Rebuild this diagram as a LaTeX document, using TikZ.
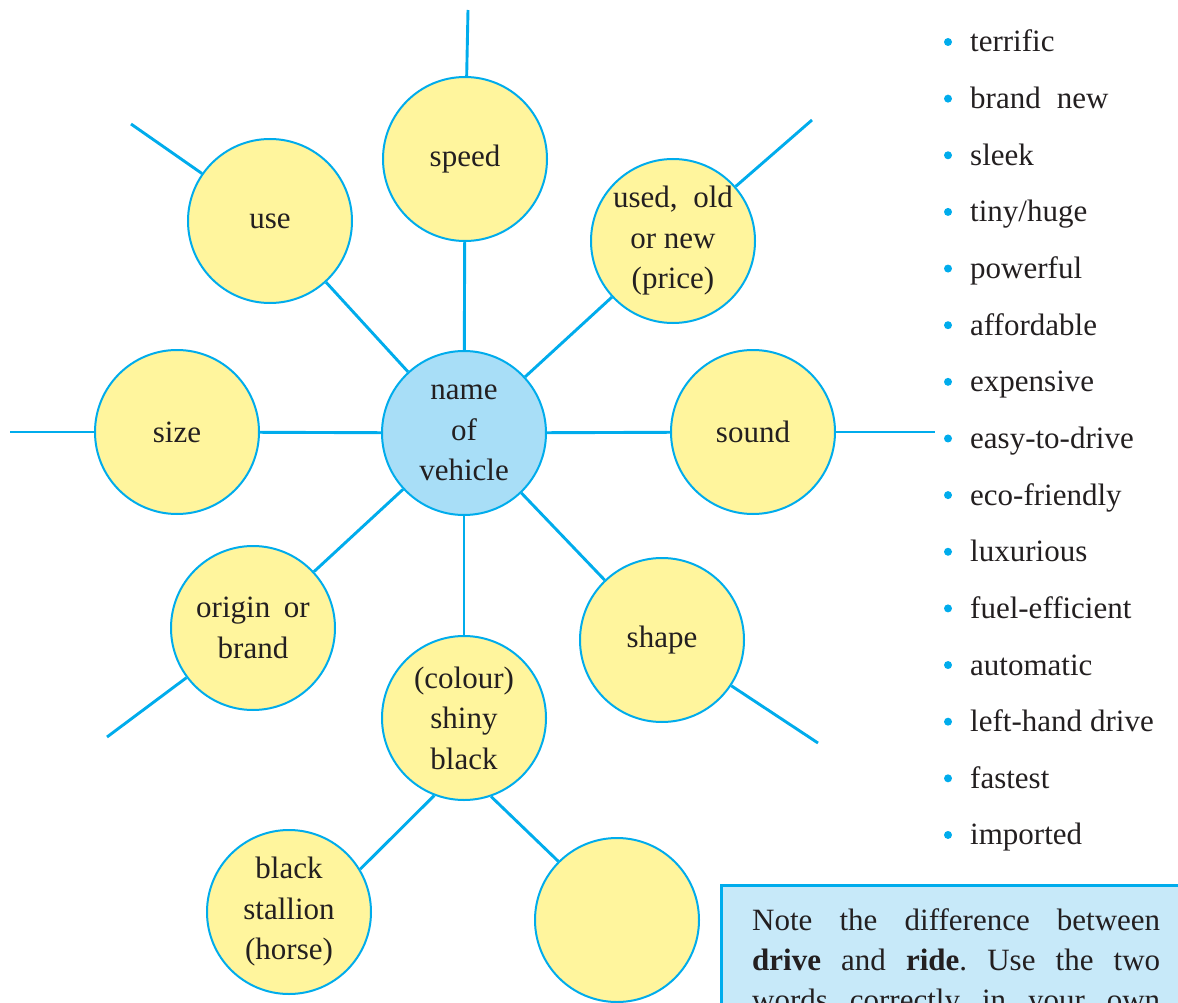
\documentclass[tikz,border=0pt]{standalone}
\usepackage{fontspec}
\setmainfont{Liberation Serif}
\definecolor{lineblue}{RGB}{0,172,236}
\definecolor{bubyellow}{RGB}{255,245,157}
\definecolor{hubblue}{RGB}{168,222,247}
\definecolor{notefill}{RGB}{199,233,249}
\definecolor{txt}{RGB}{35,31,32}
\begin{document}
\frenchspacing
\begin{tikzpicture}[x=1pt,y=-1pt,
  bub/.style={circle, draw=lineblue, line width=2pt, fill=bubyellow,
    minimum size=164pt, inner sep=0pt, align=center,
    font=\fontsize{31}{40.5}\selectfont, text=txt},
  hub/.style={bub, fill=hubblue},
  link/.style={draw=lineblue, line width=2.9pt},
  dot/.style={circle, fill=lineblue, inner sep=0pt, minimum size=8pt},
  item/.style={anchor=base west, inner sep=0pt, font=\fontsize{31}{40.5}\selectfont, text=txt},
  notebox/.style={draw=lineblue, fill=notefill, line width=2.6pt, anchor=north west, inner sep=0pt},
  noteline/.style={anchor=base west, inner sep=0pt, font=\fontsize{31}{40.5}\selectfont, text=txt}
]
\useasboundingbox (0,0) rectangle (1178,1003);
\clip (0,0) rectangle (1178,1003);

% bubbles
\node[hub] (hub) at (464,433) {name\\of\\vehicle};
\node[bub] (speed) at (465,159) {speed};
\node[bub] (use) at (270,221) {use};
\node[bub] (price) at (673,241) {used,\hspace{8pt} old\\or new\\(price)};
\node[bub] (size) at (177,432) {size};
\node[bub] (sound) at (753,432) {sound};
\node[bub] (origin) at (253,628) {origin\hspace{6pt} or\\brand};
\node[bub] (shape) at (662,640) {shape};
\node[bub] (colour) at (464,718) {(colour)\\shiny\\black};
\node[bub] (stallion) at (289,912) {black\\stallion\\(horse)};
\node[bub] (empty) at (617,920) {};

% free ends
\coordinate (eSpeed) at (468,10);
\coordinate (eUse) at (131,124);
\coordinate (ePrice) at (812,120);
\coordinate (eSize) at (10,432);
\coordinate (eSound) at (935,432);
\coordinate (eOrigin) at (107,737);
\coordinate (eShape) at (818,743);

% connectors
\draw[link] (hub) -- (speed);
\draw[link] (hub) -- (use);
\draw[link] (hub) -- (price);
\draw[link] (hub) -- (size);
\draw[link] (hub) -- (sound);
\draw[link] (hub) -- (origin);
\draw[link] (hub) -- (shape);
\draw[link] (hub) -- (colour);
\draw[link] (colour.249) -- (stallion.31);
\draw[link] (colour.289) -- (empty.135);
\draw[link] (speed) -- (eSpeed);
\draw[link] (use) -- (eUse);
\draw[link] (price) -- (ePrice);
\draw[link] (size) -- (eSize);
\draw[link] (sound) -- (eSound);
\draw[link] (origin) -- (eOrigin);
\draw[link] (shape) -- (eShape);

% bullet list
\foreach \i/\w in {0/terrific,1/brand\hspace{16pt}new,2/sleek,3/{tiny/huge},4/powerful,5/affordable,
  6/expensive,7/easy-to-drive,8/eco-friendly,9/luxurious,10/fuel-efficient,11/automatic,
  12/left-hand\hspace{8pt}drive,13/fastest,14/imported}{
  \node[dot] (b\i) at (948,{42+56.64*\i}) {};
  \node[item] (t\i) at (970,{52+56.64*\i}) {\w};
}

% note box
\node[notebox, minimum width=480pt, minimum height=140pt] (note) at (720,884) {};
\node[noteline] (n1) at (752,930) {\makebox[408pt][s]{Note the difference between}};
\node[noteline] (n2) at (752,970) {\makebox[408pt][s]{\textbf{drive} and \textbf{ride}. Use the two}};
\node[noteline] (n3) at (752,1010) {\makebox[408pt][s]{words correctly in your own}};
\end{tikzpicture}
\end{document}
